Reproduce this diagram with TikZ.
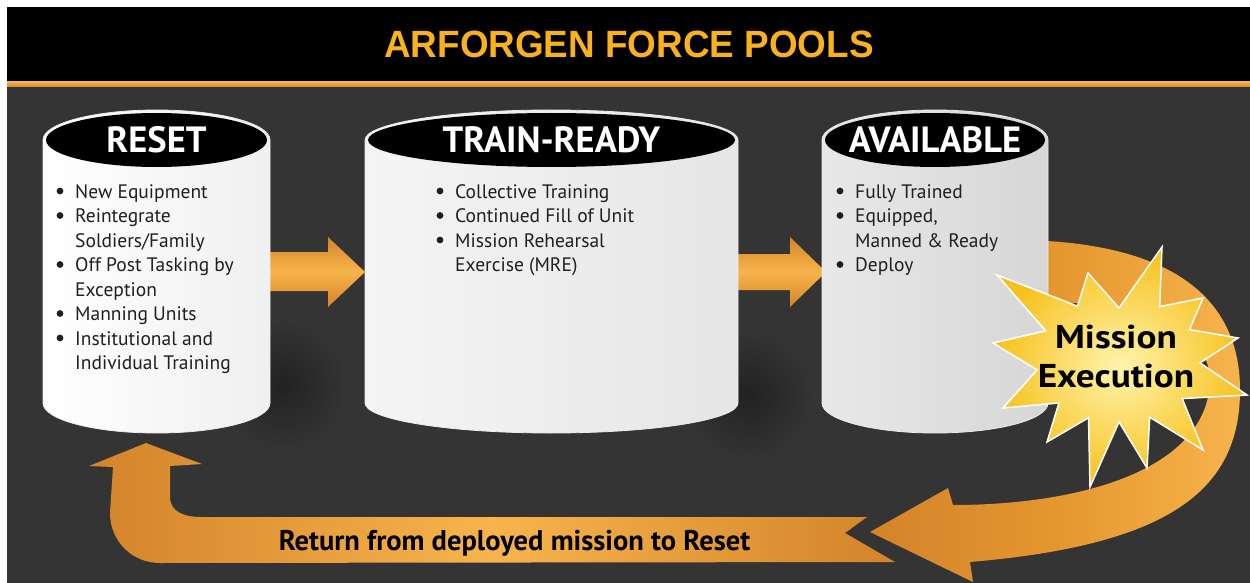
\documentclass[tikz,border=0pt]{standalone}
\usepackage{fontspec}
\setmainfont{PT Sans}
\newfontfamily\titlefont{Liberation Sans}
\definecolor{bg}{HTML}{343434}
\definecolor{gold}{HTML}{F9B21B}
\definecolor{orD}{HTML}{D4832A}
\definecolor{orM}{HTML}{E5962F}
\definecolor{orL}{HTML}{F7B44C}
\definecolor{starY}{HTML}{F7C11C}
\definecolor{starL}{HTML}{FFF4AE}
\definecolor{shad}{HTML}{222222}
\tikzset{
  cylbody/.style={draw=white!85!gray, line width=0.8pt},
  cyltop/.style={fill=black},
  headtxt/.style={text=white, font=\bfseries\fontsize{36.5}{36.5}\selectfont, inner sep=0pt, anchor=base},
  listtxt/.style={anchor=north west, inner sep=0pt, font=\fontsize{19.5}{24.5}\selectfont, text=black!88},
  bulletdot/.style={fill=black!88},
  hbar/.style={top color=orD, bottom color=orD, middle color=orL},
  shadow/.style={inner color=shad, outer color=bg},
  missiontxt/.style={font=\bfseries\fontsize{33}{33}\selectfont, inner sep=0pt, anchor=base},
}
\begin{document}
\begin{tikzpicture}[x=1pt,y=-1pt]
\useasboundingbox (0,0) rectangle (1250,583);
\fill[white] (0,0) rectangle (1250,583);
\fill[bg] (7,86) rectangle (1250,583);
\fill[black] (7,7) rectangle (1250,82);
\path[top color=orL, bottom color=orD] (7,81.5) rectangle (1250,87);
\node[text=gold, font=\titlefont\bfseries\fontsize{38}{38}\selectfont, inner sep=0pt] (title) at (629,44) {\scalebox{0.97}[1]{ARFORGEN FORCE POOLS}};

% shadows
\path[shadow] (282,385) ellipse[x radius=66, y radius=66];
\path[shadow] (748,395) ellipse[x radius=66, y radius=66];

% horizontal arrows
\coordinate (a1tip) at (365,272);
\coordinate (a2tip) at (826,272);
\path[hbar] (250,252) -- (328,252) -- (328,237) -- (a1tip) -- (328,307) -- (328,291) -- (250,291) -- cycle;
\path[hbar] (700,254) -- (790,254) -- (790,237) -- (a2tip) -- (790,307) -- (790,290) -- (700,290) -- cycle;

% curved return arrow (ring)
\coordinate (ringtip) at (870,532);
\path[left color=orD, right color=orL, middle color=orM]
  (1020,240) .. controls (1160,242) and (1240,290) .. (1240,390)
  .. controls (1240,490) and (1170,545) .. (970,562)
  -- (973,582) -- (ringtip) -- (948,488) -- (953,505)
  .. controls (1080,505) and (1208,470) .. (1210,380)
  .. controls (1210,330) and (1140,302) .. (1020,300) -- cycle;

% cylinders
\path[cylbody, left color=white, right color=black!6]
  (43,140) -- (43,403) arc[start angle=180, end angle=0, x radius=113.5, y radius=30]
  -- (270,140) arc[start angle=0, end angle=-180, x radius=113.5, y radius=30] -- cycle;
\fill[cyltop] (156.5,140) ellipse[x radius=110.5, y radius=27];
\node[headtxt] (reset) at (156.5,153) {RESET};

\path[cylbody, left color=black!4, right color=black!10]
  (365,140) -- (365,403) arc[start angle=180, end angle=0, x radius=186.5, y radius=30]
  -- (738,140) arc[start angle=0, end angle=-180, x radius=186.5, y radius=30] -- cycle;
\fill[cyltop] (551.5,140) ellipse[x radius=183.5, y radius=27];
\node[headtxt] (train) at (551.5,153) {TRAIN-READY};

\path[cylbody, left color=black!9, right color=black!16]
  (822,140) -- (822,403) arc[start angle=180, end angle=0, x radius=113, y radius=30]
  -- (1048,140) arc[start angle=0, end angle=-180, x radius=113, y radius=30] -- cycle;
\fill[cyltop] (935,140) ellipse[x radius=110, y radius=27];
\node[headtxt] (avail) at (935,153) {AVAILABLE};

% lists
\node[listtxt] (resetlist) at (75,181) {\begin{tabular}{@{}l@{}}
New Equipment\\
Reintegrate\\
Soldiers/Family\\
Off Post Tasking by\\
Exception\\
Manning Units\\
Institutional and\\
Individual Training
\end{tabular}};
\node[listtxt] (trainlist) at (455,181) {\begin{tabular}{@{}l@{}}
Collective Training\\
Continued Fill of Unit\\
Mission Rehearsal\\
Exercise (MRE)
\end{tabular}};
\node[listtxt] (availlist) at (855,181) {\begin{tabular}{@{}l@{}}
Fully Trained\\
Equipped,\\
Manned \& Ready\\
Deploy
\end{tabular}};
\foreach \r in {0,1,3,5,6} \fill[bulletdot] (60,191+24.5*\r) circle[radius=3.4];
\foreach \r in {0,1,2} \fill[bulletdot] (440,191+24.5*\r) circle[radius=3.4];
\foreach \r in {0,1,3} \fill[bulletdot] (840,191+24.5*\r) circle[radius=3.4];

% starburst
\path[draw=white, line width=1.5pt, inner color=starL, outer color=starY]
  (1238,338) -- (1189.5,329.6) -- (1203,298) -- (1159.7,306.6) -- (1162,247) -- (1119,308)
  -- (1088,273) -- (1077.4,306.1) -- (997,275) -- (1045.7,330.8) -- (993,343) -- (1037.1,369.9)
  -- (1003,408) -- (1058.9,403) -- (1047,442) -- (1088.5,417.8) -- (1090,487) -- (1119,422)
  -- (1147,468) -- (1149.7,417.2) -- (1203,450) -- (1182.2,398.6) -- (1247,395) -- (1200,362.9) -- cycle;
\node[missiontxt] (mission1) at (1116,348) {\scalebox{1.13}[1]{Mission}};
\node[missiontxt] (mission2) at (1116,387) {\scalebox{1.13}[1]{Execution}};

% bottom return band with up arrow
\coordinate (uptip) at (146,443);
\path[left color=orD, right color=orD, middle color=orL]
  (uptip) -- (202,464) -- (170,466) -- (170,497)
  .. controls (170,512) and (185,517) .. (200,517)
  -- (867,517) -- (845,533) -- (895,562) -- (160,563)
  .. controls (132,563) and (110,541) .. (110,513)
  -- (113,467) -- (89,466) -- cycle;
\node[font=\bfseries\fontsize{28.5}{28.5}\selectfont, inner sep=0pt, anchor=base] (return) at (514.5,550) {Return from deployed mission to Reset};
\end{tikzpicture}
\end{document}
